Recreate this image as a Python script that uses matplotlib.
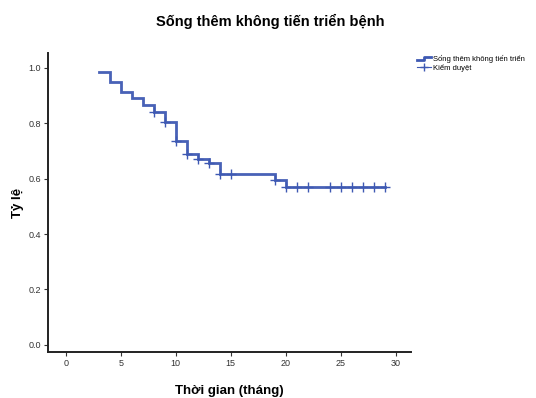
import matplotlib.pyplot as plt
from matplotlib.legend_handler import HandlerBase
from matplotlib.lines import Line2D

plt.rcParams["font.family"] = ["Liberation Sans", "DejaVu Sans"]

# Kaplan-Meier step curve (time in months, survival proportion)
step_times = [3, 4, 5, 6, 7, 8, 9, 10, 11, 12, 13, 14, 19, 20, 29]
step_surv = [0.985, 0.950, 0.914, 0.890, 0.866, 0.841, 0.805, 0.736,
             0.688, 0.672, 0.655, 0.617, 0.594, 0.570, 0.570]

# censored observations
cens_times = [8, 9, 10, 11, 12, 13, 14, 15, 19, 20, 21, 22, 24, 25, 26, 27, 28, 29]
cens_surv = [0.841, 0.805, 0.736, 0.688, 0.672, 0.655, 0.617, 0.617, 0.594,
             0.570, 0.570, 0.570, 0.570, 0.570, 0.570, 0.570, 0.570, 0.570]

x_ticks = [0, 5, 10, 15, 20, 25, 30]
y_ticks = [0.0, 0.2, 0.4, 0.6, 0.8, 1.0]

line_color = "#3e59b3"


class StepHandler(HandlerBase):
    def create_artists(self, legend, orig_handle, xdescent, ydescent,
                       width, height, fontsize, trans):
        x0, x1 = -xdescent, -xdescent + width
        ylo, yhi = -ydescent + 0.15 * height, -ydescent + 0.75 * height
        xm = x0 + 0.55 * width
        ln = Line2D([x0, xm, xm, x1], [ylo, ylo, yhi, yhi],
                    color=line_color, lw=2.0, transform=trans)
        return [ln]


fig = plt.figure(figsize=[5.36, 3.98], dpi=100)
ax = fig.add_axes([0.0896, 0.1156, 0.6777, 0.7514])

ax.step(step_times, step_surv, where="post", color=line_color, lw=2.0,
        alpha=0.95, solid_joinstyle="miter")
ax.plot(cens_times, cens_surv, linestyle="none", marker="+", markersize=7,
        markeredgewidth=1.0, color=line_color)

ax.set_xlim(-1.6, 31.4)
ax.set_ylim(-0.026, 1.054)
ax.set_xticks(x_ticks)
ax.set_yticks(y_ticks)
ax.set_xticklabels([str(v) for v in x_ticks])
ax.set_yticklabels([f"{v:.1f}" for v in y_ticks])
ax.tick_params(axis="both", direction="out", length=3, width=0.8,
               labelsize=6.5, labelcolor="#333333", color="#333333", pad=2)

ax.spines[["right", "top"]].set_visible(False)
ax.spines[["left", "bottom"]].set_linewidth(1.4)
ax.spines[["left", "bottom"]].set_color("#222222")

ax.set_xlabel("Thời gian (tháng)", fontsize=9.5, fontweight="bold", labelpad=12)
ax.set_ylabel("Tỷ lệ", fontsize=9.5, fontweight="bold", labelpad=3)

fig.suptitle("Sống thêm không tiến triển bệnh", x=0.505, y=0.965,
             fontsize=10.5, fontweight="bold")

h_step = Line2D([], [], color=line_color)
h_cens = Line2D([], [], color=line_color, marker="+", lw=0.8, markersize=6)
fig.legend([h_step, h_cens], ["Sống thêm không tiến triển", "Kiểm duyệt"],
           handler_map={h_step: StepHandler()},
           loc="upper left", bbox_to_anchor=(0.772, 0.87), frameon=False,
           fontsize=5.5, handlelength=1.8, handletextpad=0.3, labelspacing=0.2,
           borderaxespad=0.0)

fig.savefig("out.png", dpi=100)
plt.close(fig)
